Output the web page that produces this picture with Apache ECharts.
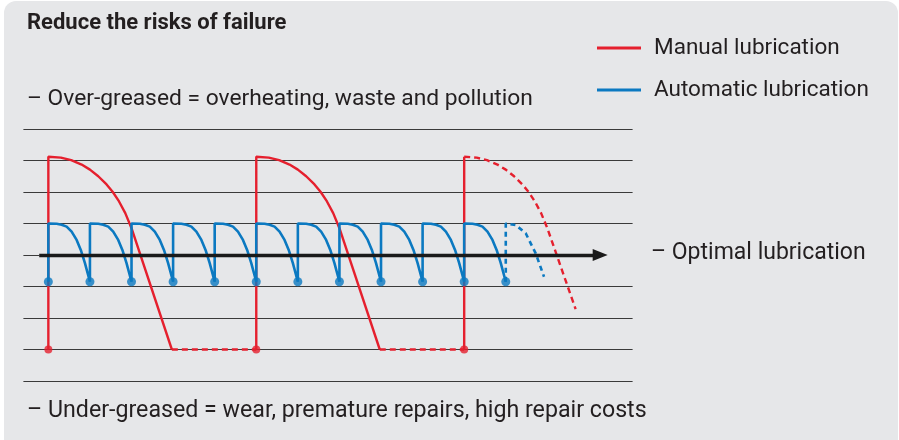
<!DOCTYPE html>
<html>
<head>
<meta charset="utf-8">
<script src="https://cdn.jsdelivr.net/npm/echarts@6/dist/echarts.min.js"></script>
<style>
  html, body { margin: 0; padding: 0; background: #ffffff; }
  #chart { width: 899px; height: 440px; }
</style>
</head>
<body>
<div id="chart"></div>
<script>
// Lubricant level over time (x: relubrication intervals of the automatic system,
// y: grease level bands, 4 = optimal).

// Manual lubrication: large refills followed by a long decline to starvation
const manualCycle1 = [[0, 1], [0, 7.12], [0.3, 7.09], [0.55, 7.01], [0.8, 6.87], [1.0, 6.71], [1.2, 6.5],
  [1.4, 6.24], [1.55, 6.0], [1.7, 5.7], [1.85, 5.33], [2.0, 4.85], [2.97, 1.0]];
const manualDry1 = [[2.97, 1.0], [5, 1.0]];
const manualCycle2 = [[5, 1], [5, 7.12], [5.3, 7.09], [5.55, 7.01], [5.8, 6.87], [6.0, 6.71], [6.2, 6.5],
  [6.4, 6.24], [6.55, 6.0], [6.7, 5.7], [6.85, 5.33], [7.0, 4.85], [7.97, 1.0]];
const manualDry2 = [[7.97, 1.0], [10, 1.0]];
const manualRefill3 = [[10, 1], [10, 7.12]];
const manualForecast = [[10, 7.12], [10.3, 7.09], [10.55, 7.01], [10.8, 6.87], [11.0, 6.71], [11.2, 6.5],
  [11.4, 6.24], [11.55, 6.0], [11.7, 5.7], [11.85, 5.33], [12.0, 4.85], [12.68, 2.28]];
const manualRefillPoints = [[0, 1], [5, 1], [10, 1]];

// Automatic lubrication: small, frequent doses around the optimal band
const automaticLine = [
  [0, 3.15], [0, 5.0], [0.2, 4.99], [0.32, 4.96], [0.44, 4.9], [0.56, 4.74], [0.68, 4.48], [0.78, 4.16], [0.88, 3.74], [1, 3.15],
  [1, 5.0], [1.2, 4.99], [1.32, 4.96], [1.44, 4.9], [1.56, 4.74], [1.68, 4.48], [1.78, 4.16], [1.88, 3.74], [2, 3.15],
  [2, 5.0], [2.2, 4.99], [2.32, 4.96], [2.44, 4.9], [2.56, 4.74], [2.68, 4.48], [2.78, 4.16], [2.88, 3.74], [3, 3.15],
  [3, 5.0], [3.2, 4.99], [3.32, 4.96], [3.44, 4.9], [3.56, 4.74], [3.68, 4.48], [3.78, 4.16], [3.88, 3.74], [4, 3.15],
  [4, 5.0], [4.2, 4.99], [4.32, 4.96], [4.44, 4.9], [4.56, 4.74], [4.68, 4.48], [4.78, 4.16], [4.88, 3.74], [5, 3.15],
  [5, 5.0], [5.2, 4.99], [5.32, 4.96], [5.44, 4.9], [5.56, 4.74], [5.68, 4.48], [5.78, 4.16], [5.88, 3.74], [6, 3.15],
  [6, 5.0], [6.2, 4.99], [6.32, 4.96], [6.44, 4.9], [6.56, 4.74], [6.68, 4.48], [6.78, 4.16], [6.88, 3.74], [7, 3.15],
  [7, 5.0], [7.2, 4.99], [7.32, 4.96], [7.44, 4.9], [7.56, 4.74], [7.68, 4.48], [7.78, 4.16], [7.88, 3.74], [8, 3.15],
  [8, 5.0], [8.2, 4.99], [8.32, 4.96], [8.44, 4.9], [8.56, 4.74], [8.68, 4.48], [8.78, 4.16], [8.88, 3.74], [9, 3.15],
  [9, 5.0], [9.2, 4.99], [9.32, 4.96], [9.44, 4.9], [9.56, 4.74], [9.68, 4.48], [9.78, 4.16], [9.88, 3.74], [10, 3.15],
  [10, 5.0], [10.2, 4.99], [10.32, 4.96], [10.44, 4.9], [10.56, 4.74], [10.68, 4.48], [10.78, 4.16], [10.88, 3.74], [11, 3.15]
];
const automaticForecast = [[11, 3.15], [11, 5.0], [11.24, 4.95], [11.48, 4.69], [11.72, 4.05], [11.92, 3.31]];
const automaticDosePoints = [[0, 3.15], [1, 3.15], [2, 3.15], [3, 3.15], [4, 3.15], [5, 3.15],
  [6, 3.15], [7, 3.15], [8, 3.15], [9, 3.15], [10, 3.15], [11, 3.15]];

// Optimal level reference arrow
const optimalLevel = 4;
const optimalStart = -0.22;
const optimalEnd = 13.27;
const levelTicks = [0, 1, 2, 3, 4, 5, 6, 7, 8];

const texts = {
  title: 'Reduce the risks of failure',
  over: '– Over-greased = overheating, waste and pollution',
  under: '– Under-greased = wear, premature repairs, high repair costs',
  optimal: '– Optimal lubrication',
  manual: 'Manual lubrication',
  automatic: 'Automatic lubrication'
};

const RED = '#e5202e';
const BLUE = '#0b79c1';
const INK = '#231f20';
const RULE = '#3a3a3a';
const FONT = 'Roboto';

const chart = echarts.init(document.getElementById('chart'), null, { renderer: 'canvas' });

function redLine(data, dashed) {
  return {
    type: 'line', name: texts.manual, data: data, z: 3,
    symbol: 'none', showSymbol: false, silent: true,
    lineStyle: { color: RED, width: 2.4, type: dashed ? [6, 4] : 'solid' },
    itemStyle: { color: RED }
  };
}
function blueLine(data, dashed) {
  return {
    type: 'line', name: texts.automatic, data: data, z: 4,
    symbol: 'none', showSymbol: false, silent: true,
    lineStyle: { color: BLUE, width: 2.6, type: dashed ? [5, 4] : 'solid' },
    itemStyle: { color: BLUE }
  };
}

// one split line per level; the optimal level is drawn by the arrow instead
const ruleColors = levelTicks.map(v => v === optimalLevel ? 'rgba(0,0,0,0)' : RULE);

function label(text, x, y, font) {
  return {
    type: 'text', x: x, y: y, silent: true,
    style: { text: text, font: font, fill: INK, verticalAlign: 'middle', align: 'left' }
  };
}

chart.setOption({
  animation: false,
  backgroundColor: '#ffffff',
  grid: { left: 23.4, right: 266.4, top: 129, bottom: 59 },
  xAxis: {
    type: 'value', min: -0.6, max: 14.05,
    show: false, splitLine: { show: false }
  },
  yAxis: {
    type: 'value', min: 0, max: 8, interval: 1,
    axisLine: { show: false }, axisTick: { show: false }, axisLabel: { show: false },
    splitLine: { show: true, lineStyle: { color: ruleColors, width: 1 } }
  },
  legend: {
    data: [texts.manual, texts.automatic],
    orient: 'vertical',
    left: 592, top: 31,
    icon: 'rect',
    itemWidth: 44, itemHeight: 3,
    itemGap: 18,
    selectedMode: false,
    textStyle: { color: INK, fontFamily: FONT, fontSize: 22.5, lineHeight: 24, padding: [0, 0, 0, 8] }
  },
  graphic: [
    {
      type: 'rect', z: -100, silent: true,
      shape: { x: 4, y: 1, width: 894, height: 470, r: 12 },
      style: { fill: '#e6e7e9' }
    },
    label(texts.title, 27, 23, 'bold 22px ' + FONT),
    label(texts.over, 27, 99.5, '22.8px ' + FONT),
    label(texts.under, 27, 411.5, '23.2px ' + FONT),
    label(texts.optimal, 651, 253, '23px ' + FONT)
  ],
  series: [
    {
      type: 'line', name: 'optimal', data: [], z: 2, silent: true,
      markLine: {
        silent: true, animation: false,
        label: { show: false },
        emphasis: { disabled: true },
        data: [
          [{ coord: [-0.6, optimalLevel], symbol: 'none', lineStyle: { width: 1, color: RULE, type: 'solid' } },
           { coord: [optimalStart, optimalLevel], symbol: 'none' }],
          [{ coord: [optimalStart, optimalLevel], symbol: 'none', lineStyle: { width: 3.4, color: '#1a1a1a', type: 'solid' } },
           { coord: [optimalEnd, optimalLevel], symbol: 'triangle', symbolSize: [12, 15] }]
        ],
        itemStyle: { color: '#1a1a1a' }
      }
    },
    redLine(manualCycle1, false),
    redLine(manualDry1, true),
    redLine(manualCycle2, false),
    redLine(manualDry2, true),
    redLine(manualRefill3, false),
    redLine(manualForecast, true),
    {
      type: 'scatter', name: 'manual refills', data: manualRefillPoints, z: 3,
      symbol: 'circle', symbolSize: 8, silent: true, itemStyle: { color: RED }
    },
    blueLine(automaticLine, false),
    blueLine(automaticForecast, true),
    {
      type: 'scatter', name: 'automatic doses', data: automaticDosePoints, z: 5,
      symbol: 'circle', symbolSize: 9, silent: true, itemStyle: { color: BLUE }
    }
  ]
});
</script>
</body>
</html>
